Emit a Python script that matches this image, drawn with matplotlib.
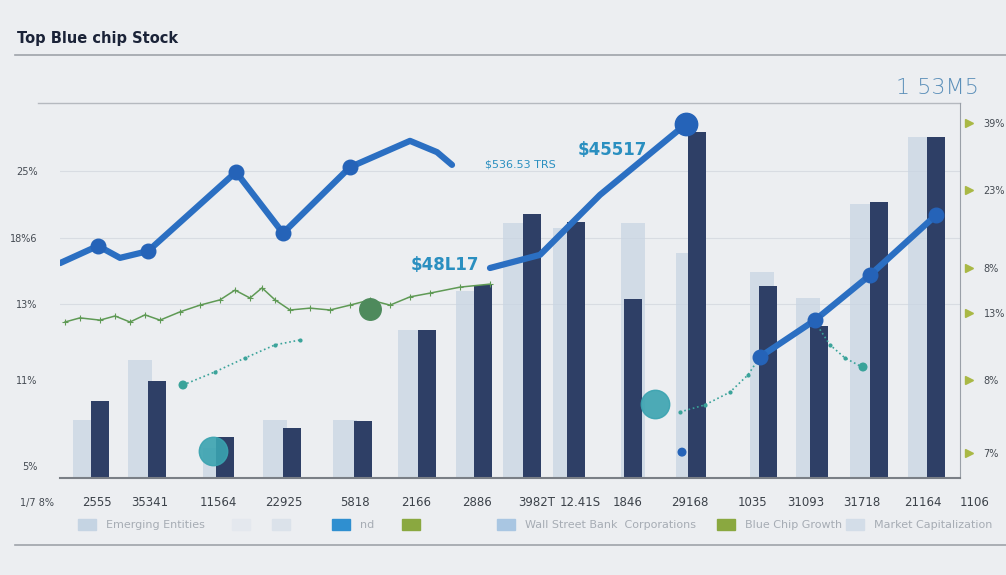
import matplotlib.pyplot as plt
import matplotlib.patches as mpatches
from matplotlib.lines import Line2D
import numpy as np

# bar data (x position in days, height in index points)
bar_x = [40, 97, 165, 232, 303, 367, 423, 472, 516, 573, 637, 708, 759, 819, 876]
bar_vals = [20.5, 25.9, 10.9, 13.3, 15.2, 39.5, 51.5, 70.4, 68.3, 47.7, 92.3, 51.2, 40.5, 73.6, 90.9]
ghost_x = [25, 80, 155, 215, 285, 350, 408, 455, 505, 573, 628, 702, 748, 802, 860]
ghost_vals = [15.5, 31.5, 8.0, 15.5, 15.5, 39.5, 50.0, 68.0, 66.7, 68.0, 60.0, 55.0, 48.0, 73.0, 91.0]

# main price line (NaN breaks)
line_x = [0, 38, 60, 88, 176, 223, 290, 350, 377, 392, np.nan, 430, 480, 540, 626, np.nan, 700, 755, 810, 876]
line_y = [57.3, 61.9, 58.7, 60.5, 81.6, 65.3, 82.9, 89.9, 86.9, 83.5, np.nan, 56.0, 59.5, 75.5, 94.4, np.nan, 32.3, 42.1, 54.1, 70.1]
marker_x = [38, 88, 176, 223, 290, 626, 700, 755, 810, 876]
marker_y = [61.9, 60.5, 81.6, 65.3, 82.9, 94.4, 32.3, 42.1, 54.1, 70.1]

# thin green line
green_x = [5, 20, 40, 55, 70, 85, 100, 120, 140, 160, 175, 190, 202, 215, 230, 250, 270, 290, 310, 330, 350, 370, 400, 430]
green_y = [41.6, 42.7, 42.1, 43.2, 41.6, 43.5, 42.1, 44.3, 46.1, 47.5, 50.1, 48.0, 50.7, 47.5, 44.8, 45.3, 44.8, 46.1, 47.5, 46.1, 48.3, 49.3, 50.9, 51.7]

# teal dotted segments
teal1_x = [123, 155, 185, 215, 240]
teal1_y = [24.8, 28.3, 32.0, 35.5, 36.8]
teal2_x = [620, 645, 670, 688, 700]
teal2_y = [17.6, 19.5, 22.9, 27.5, 32.3]
teal3_x = [755, 770, 785, 802]
teal3_y = [41.6, 35.5, 32.0, 29.6]

left_ticks = [81.9, 64.0, 46.4, 26.1, 3.2]
left_labels = ['25%', '18%6', '13%', '11%', '5%']
right_ticks = [94.7, 76.8, 56.0, 44.0, 26.1, 6.7]
right_labels = ['39%', '23%', '8%', '13%', '8%', '7%']
x_tick_x = [37, 90, 158, 224, 295, 356, 417, 477, 520, 568, 630, 692, 746, 802, 863]
x_tick_labels = ['2555', '35341', '11564', '22925', '5818', '2166', '2886',
                 '3982T', '12.41S', '1846', '29168', '1035', '31093', '31718', '21164']

legend_labels = ['Emerging Entities', '', '', 'nd', '', 'Wall Street Bank  Corporations',
                 'Blue Chip Growth', 'Market Capitalization']
legend_colors = ['#c5d4e3', '#e4e8ee', '#dbe2ea', '#2f8fd0', '#8aa840', '#a9c6e2', '#8aa840', '#d3dde8']
legend_px = [78, 232, 272, 332, 402, 497, 717, 846]

bg = '#eceef1'
fig = plt.figure(figsize=(10.06, 5.75), dpi=100, facecolor=bg)
W, H = 1006, 575
ax = fig.add_axes([60 / W, (575 - 478) / H, 900 / W, 375 / H], facecolor=bg)
ax.set_xlim(0, 900)
ax.set_ylim(0, 100)

ax.bar(ghost_x, ghost_vals, width=24, color='#c9d5e3', alpha=0.75, zorder=1)
ax.bar(bar_x, bar_vals, width=18, color='#2e3f66', zorder=2)

ax.plot(green_x, green_y, color='#5f9a55', lw=1.1, marker='+', ms=4, mew=0.8, zorder=3)
for tx, ty in [(teal1_x, teal1_y), (teal2_x, teal2_y), (teal3_x, teal3_y)]:
    ax.plot(tx, ty, color='#3aa39a', lw=1.2, ls=':', marker='.', ms=4, zorder=3)

ax.plot(line_x, line_y, color='#2b6fc2', lw=4.5, solid_capstyle='round', zorder=4)
ax.scatter(marker_x, marker_y, s=110, color='#2563b8', zorder=5)
ax.scatter([626], [94.4], s=260, color='#2563b8', zorder=5)
ax.scatter([153, 595], [7.2, 19.7], s=420, color='#3aa3b0', alpha=0.9, zorder=3)
ax.scatter([123, 803, 622], [24.8, 29.6, 6.9], s=30, color=['#3aa39a', '#3aa39a', '#2563b8'], zorder=3)
ax.scatter([310], [45.0], s=240, color='#4e8a5c', zorder=3)

ax.text(552, 87.5, '$45517', color='#2a8fc0', fontsize=12, fontweight='bold', ha='center', va='center')
ax.text(385, 56.8, '$48L17', color='#2a8fc0', fontsize=12, fontweight='bold', ha='center', va='center')
ax.text(460, 83.5, '$536.53 TRS', color='#2a8fc0', fontsize=8, ha='center', va='center')
ax.text(877, 104, '1 53M5', color='#5b8fb9', fontsize=16, fontweight='light',
        ha='center', va='center', clip_on=False)

# grid / frame
for v in left_ticks[:3]:
    ax.axhline(v, color='#d8dce2', lw=0.8, zorder=0)
ax.axhline(100, xmin=-0.025, color='#b5b9bf', lw=1, clip_on=False, zorder=0)
for s in ['left', 'top']:
    ax.spines[s].set_visible(False)
ax.spines['bottom'].set_color('#7a7f86')
ax.spines['bottom'].set_linewidth(1.5)
ax.spines['right'].set_color('#9aa0a8')
ax.spines['right'].set_bounds(0, 100)

ax.set_yticks(left_ticks)
ax.set_yticklabels(left_labels, fontsize=7, color='#444a52')
ax.tick_params(axis='y', length=0, pad=16)
ax.set_xticks(x_tick_x)
ax.set_xticklabels(x_tick_labels, fontsize=8.5, color='#3c424a')
ax.tick_params(axis='x', length=0, pad=13)
ax.set_xlim(0, 900)

ax2 = ax.twinx()
ax2.set_ylim(0, 100)
ax2.set_yticks(right_ticks)
ax2.set_yticklabels(right_labels, fontsize=7, color='#444a52')
ax2.tick_params(axis='y', length=0, pad=17)
for s in ax2.spines.values():
    s.set_visible(False)
ax.plot([1.01] * len(right_ticks), right_ticks, '>', color='#a9b845', ms=6,
        transform=ax.get_yaxis_transform(), clip_on=False)

# stray tick labels outside the plot span
fig.text(20 / W, 1 - 503 / H, '1/7 8%', fontsize=7, color='#444a52', va='center')
fig.text(975 / W, 1 - 503 / H, '1106', fontsize=8.5, color='#3c424a', va='center', ha='center')

# title and rules
fig.text(17 / W, 1 - 38 / H, 'Top Blue chip Stock', fontsize=10.5, fontweight='bold',
         color='#1b2338', va='center')
fig.add_artist(Line2D([15 / W, 1], [1 - 55 / H] * 2, color='#9ea3aa', lw=1.2))
fig.add_artist(Line2D([15 / W, 1], [1 - 545 / H] * 2, color='#9ea3aa', lw=1.2))

# legend row
for px, col, lab in zip(legend_px, legend_colors, legend_labels):
    fig.add_artist(mpatches.Rectangle((px / W, 1 - 530 / H), 18 / W, 11 / H, color=col))
    if lab:
        fig.text((px + 28) / W, 1 - 525 / H, lab, fontsize=8, color='#a6acb4', va='center')

plt.savefig('out.png', dpi=100, facecolor=bg)
